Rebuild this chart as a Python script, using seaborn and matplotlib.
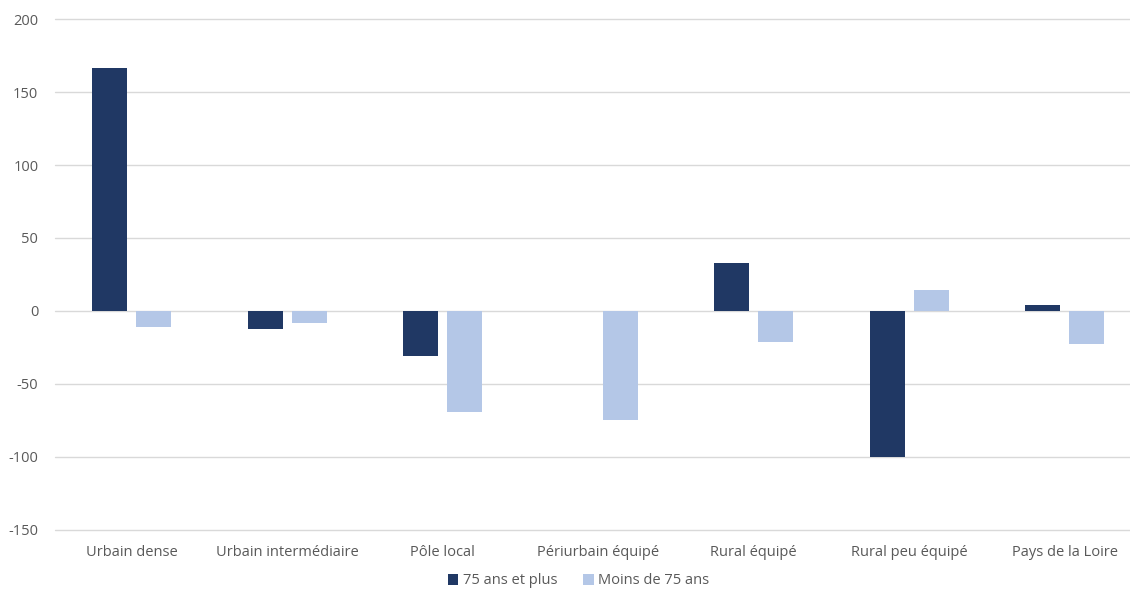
import pandas as pd
import matplotlib.pyplot as plt
import seaborn as sns
import numpy as np

# categories and the two series
categories = ["Urbain dense", "Urbain intermédiaire", "Pôle local", "Périurbain équipé",
              "Rural équipé", "Rural peu équipé", "Pays de la Loire"]
plus_75 = [166.5, -12.4, -30.7, 0, 33, -100, 4.1]
moins_75 = [-11, -8.2, -69.2, -74.9, -21.4, 14, -22.5]
series_names = ["75 ans et plus", "Moins de 75 ans"]
yticks = [-150, -100, -50, 0, 50, 100, 150, 200]

df = pd.DataFrame({"cat": categories, series_names[0]: plus_75, series_names[1]: moins_75})
df = df.melt(id_vars="cat", var_name="serie", value_name="val")

sns.set_style("white")
plt.rcParams['font.family'] = ['Open Sans', 'DejaVu Sans']
plt.rcParams['axes.unicode_minus'] = False

fig = plt.figure(figsize=(11.3, 5.92), dpi=100)
ax = fig.add_axes([55/1130, 1-529.5/592, 1075/1130, (529.5-19.3)/592])

sns.barplot(data=df, x="cat", y="val", hue="serie", order=categories, hue_order=series_names,
            palette=["#203864", "#b4c7e7"], saturation=1, width=0.566, gap=0.205,
            linewidth=0, ax=ax, legend=True)

ax.set_ylim(-150, 200)
ax.set_xlim(-0.495, 6.42)
ax.set_yticks(yticks)
ax.grid(axis='y', color='#d9d9d9', linewidth=1)
for gl in ax.get_ygridlines():
    gl.set_clip_on(False)
ax.set_axisbelow(True)
for s in ax.spines.values():
    s.set_visible(False)
ax.tick_params(axis='both', length=0, colors='#595959', labelsize=10.5)
ax.tick_params(axis='y', pad=12)
ax.tick_params(axis='x', pad=11)
ax.set_xlabel("")
ax.set_ylabel("")

handles, labels = ax.get_legend_handles_labels()
ax.legend_.remove()
fig.legend(handles, labels, loc='center', bbox_to_anchor=(0.512, 1-581/592), ncol=2, frameon=False,
           fontsize=10.5, handlelength=0.7, handleheight=0.7, handletextpad=0.3, columnspacing=1.8,
           labelcolor='#595959')

fig.savefig("out.png", dpi=100)
